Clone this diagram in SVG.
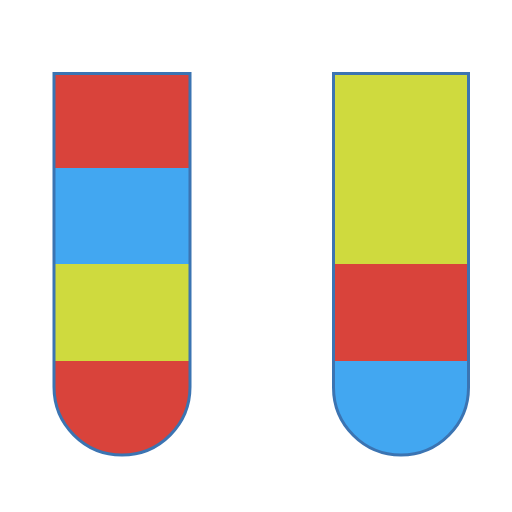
<svg xmlns="http://www.w3.org/2000/svg" width="512" height="512" viewBox="0 0 512 512">
  <style>
    .r{fill:#d9433b}.b{fill:#42a7f1}.y{fill:#cfda3e}
    .o{fill:none;stroke:#3b74b2;stroke-width:3}
  </style>
  <defs>
    <clipPath id="c1"><path d="M54 73.5H190V387A68 68 0 0 1 54 387Z"/></clipPath>
    <clipPath id="c2"><path d="M333.5 73.5H468.5V387.5A67.5 67.5 0 0 1 333.5 387.5Z"/></clipPath>
  </defs>
  <rect width="512" height="512" fill="#fff"/>
  <g id="tube1">
    <g clip-path="url(#c1)">
      <rect class="r" x="50" y="70" width="145" height="98"/>
      <rect class="b" x="50" y="168" width="145" height="96"/>
      <rect class="y" x="50" y="264" width="145" height="97"/>
      <rect class="r" x="50" y="361" width="145" height="100"/>
    </g>
    <path class="o" d="M54 73.5H190V387A68 68 0 0 1 54 387Z"/>
  </g>
  <g id="tube2">
    <g clip-path="url(#c2)">
      <rect class="y" x="330" y="70" width="145" height="194"/>
      <rect class="r" x="330" y="264" width="145" height="97"/>
      <rect class="b" x="330" y="361" width="145" height="100"/>
    </g>
    <path class="o" d="M333.5 73.5H468.5V387.5A67.5 67.5 0 0 1 333.5 387.5Z"/>
  </g>
</svg>
